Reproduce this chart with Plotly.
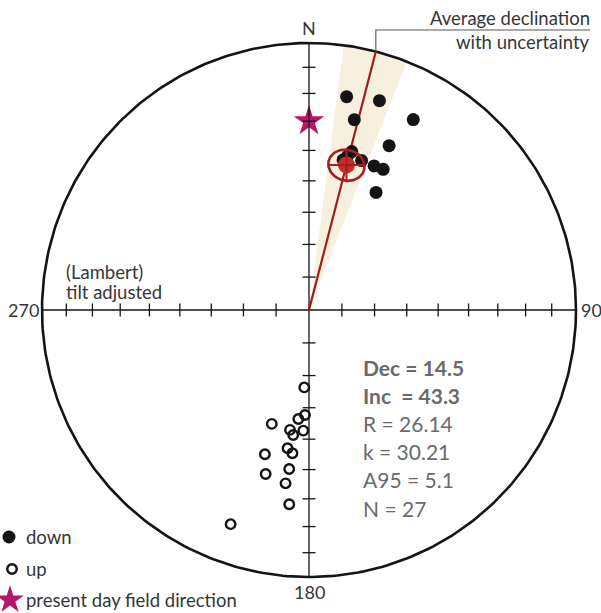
import numpy as np
import plotly.graph_objects as go

# ---- palaeomagnetic directions (declination / inclination, degrees) ----
down_dec = [10.0, 18.6, 13.4, 28.7, 26.0, 15.1, 19.4, 24.3, 27.8, 29.7, 12.8, 14.0]
down_inc = [20.0, 18.4, 27.6, 19.8, 32.1, 38.5, 40.4, 40.5, 40.2, 48.0, 41.9, 40.5]

up_dec = [183.5, 182.2, 185.6, 182.7, 189.0, 187.2, 198.1, 188.8,
          186.6, 197.0, 187.1, 194.8, 187.7, 185.8, 200.1]
up_inc = [-66.3, -57.7, -56.3, -52.7, -52.5, -51.0, -53.0, -46.5,
          -45.1, -42.9, -39.8, -36.6, -34.8, -27.7, -15.7]

# Fisher mean and statistics
mean_dec = 14.5
mean_inc = 43.3
a95 = 5.1
stat_R = 26.14
stat_k = 30.21
stat_N = 27

# present day field direction
pdf_dec = 0.0
pdf_inc = 30.0

# inclination ticks along the N-S / E-W axes
tick_incs = [10, 20, 30, 40, 50, 60, 70, 80]
axis_labels = ["N", "90", "180", "270"]

# ---- figure geometry (pixels) ----
W, H = 601, 613
CX, CY, RAD = 309, 310, 267


def project(dec, inc):
    """Lambert equal-area projection, unit primitive circle."""
    dec = np.radians(np.asarray(dec, dtype=float))
    inc = np.radians(np.abs(np.asarray(inc, dtype=float)))
    r = np.sqrt(2.0) * np.sin((np.pi / 2 - inc) / 2)
    return r * np.sin(dec), r * np.cos(dec)


def px(x, y):
    """Pixel position to data coordinates."""
    return (x - CX) / RAD, (CY - y) / RAD


fig = go.Figure()
INK = "#141414"

# uncertainty wedge on the mean declination
d_dec = np.degrees(np.arcsin(np.sin(np.radians(a95)) / np.cos(np.radians(mean_inc))))
arc = np.radians(np.linspace(mean_dec - d_dec, mean_dec + d_dec, 60))
wx = np.concatenate([[0], np.sin(arc), [0]])
wy = np.concatenate([[0], np.cos(arc), [0]])
fig.add_trace(go.Scatter(x=wx, y=wy, mode="lines", fill="toself",
                         fillcolor="#F7F0DE", line=dict(width=0),
                         hoverinfo="skip"))

# present day field star (under the axis)
sx, sy = project([pdf_dec], [pdf_inc])
fig.add_trace(go.Scatter(x=sx, y=sy, mode="markers",
                         marker=dict(symbol="star", size=23, color="#B5166A",
                                     line=dict(width=0))))

# primitive circle
t = np.linspace(0, 2 * np.pi, 400)
fig.add_trace(go.Scatter(x=np.cos(t), y=np.sin(t), mode="lines",
                         line=dict(color=INK, width=2.6), hoverinfo="skip"))

# axes
fig.add_trace(go.Scatter(x=[-1, 1, None, 0, 0], y=[0, 0, None, -1, 1],
                         mode="lines", line=dict(color=INK, width=1.3),
                         hoverinfo="skip"))

# inclination ticks
half = 6.5 / RAD
tx, ty = [], []
for inc in tick_incs:
    r, _ = project([90], [inc])
    r = float(r[0])
    for sgn in (1, -1):
        tx += [sgn * r, sgn * r, None]
        ty += [-half, half, None]
        tx += [-half, half, None]
        ty += [sgn * r, sgn * r, None]
fig.add_trace(go.Scatter(x=tx, y=ty, mode="lines",
                         line=dict(color=INK, width=1.3), hoverinfo="skip"))

# mean declination line
fig.add_trace(go.Scatter(x=[0, np.sin(np.radians(mean_dec))],
                         y=[0, np.cos(np.radians(mean_dec))],
                         mode="lines", line=dict(color="#A01B1E", width=2.2),
                         hoverinfo="skip"))

# lower hemisphere (down) directions
dx, dy = project(down_dec, down_inc)
fig.add_trace(go.Scatter(x=dx, y=dy, mode="markers",
                         marker=dict(symbol="circle", size=13, color=INK,
                                     line=dict(width=0))))

# upper hemisphere (up) directions
ux, uy = project(up_dec, up_inc)
fig.add_trace(go.Scatter(x=ux, y=uy, mode="markers",
                         marker=dict(symbol="circle-open", size=9.5, color=INK,
                                     line=dict(width=2.4, color=INK))))

# mean direction with its a95 cone
D, I, A = np.radians(mean_dec), np.radians(mean_inc), np.radians(a95)
m = np.array([np.cos(I) * np.sin(D), np.cos(I) * np.cos(D), np.sin(I)])
u = np.cross(m, [0, 0, 1.0]); u /= np.linalg.norm(u)
w = np.cross(m, u)
phi = np.linspace(0, 2 * np.pi, 120)
v = (np.cos(A) * m[:, None]
     + np.sin(A) * (np.cos(phi) * u[:, None] + np.sin(phi) * w[:, None]))
cdec = np.degrees(np.arctan2(v[0], v[1]))
cinc = np.degrees(np.arcsin(v[2]))
cx, cy = project(cdec, cinc)
mx, my = project([mean_dec], [mean_inc])
mx, my = float(mx[0]), float(my[0])
fig.add_trace(go.Scatter(x=[mx], y=[my], mode="markers",
                         marker=dict(symbol="circle", size=17, color="#C42D28",
                                     line=dict(width=0))))
fig.add_trace(go.Scatter(x=cx, y=cy, mode="lines",
                         line=dict(color="#A81D1F", width=2.6), hoverinfo="skip"))
fig.add_trace(go.Scatter(x=[cx.min(), cx.max(), None, mx, mx],
                         y=[my, my, None, cy.min(), cy.max()],
                         mode="lines", line=dict(color="#A81D1F", width=2),
                         hoverinfo="skip"))

# leader for the declination label
lx, ly = np.sin(np.radians(mean_dec)), np.cos(np.radians(mean_dec))
ax0, ay0 = px(0, 30)
ax1, _ = px(590, 30)
fig.add_trace(go.Scatter(x=[lx, lx, ax1], y=[ly, ay0, ay0], mode="lines",
                         line=dict(color="#555555", width=1.1),
                         hoverinfo="skip"))

# legend glyphs
lg = [px(9, 537), px(12, 569), px(10, 600)]
fig.add_trace(go.Scatter(x=[lg[0][0]], y=[lg[0][1]], mode="markers",
                         marker=dict(symbol="circle", size=13, color=INK)))
fig.add_trace(go.Scatter(x=[lg[1][0]], y=[lg[1][1]], mode="markers",
                         marker=dict(symbol="circle-open", size=9.5, color=INK,
                                     line=dict(width=2.4, color=INK))))
fig.add_trace(go.Scatter(x=[lg[2][0]], y=[lg[2][1]], mode="markers",
                         marker=dict(symbol="star", size=21, color="#B5166A")))

FONT = "Lato, 'Open Sans', sans-serif"
TXT = "#363636"
GREY = "#6A6A6A"


def note(text, x, y, size=16, color=TXT, xanchor="left", bold=False):
    if bold:
        text = "<b>" + text + "</b>"
    fig.add_annotation(text=text, x=x / W, y=1 - y / H, xref="paper",
                       yref="paper", xanchor=xanchor, yanchor="middle",
                       showarrow=False,
                       font=dict(family=FONT, size=size, color=color))


note(axis_labels[0], CX, 28, size=18, xanchor="center")
note(axis_labels[1], 579, 310, size=18)
note(axis_labels[2], CX, 592, size=18, xanchor="center")
note(axis_labels[3], 41, 310, size=18, xanchor="right")

note("Average declination", 592, 18, size=18.5, xanchor="right")
note("with uncertainty", 592, 42, size=18.5, xanchor="right")
note("(Lambert)", 64, 272, size=18.5)
note("tilt adjusted", 64, 292, size=18.5)

stats = [
    (f"Dec = {mean_dec}", True),
    (f"Inc\u00a0\u00a0= {mean_inc}", True),
    (f"R = {stat_R}", False),
    (f"k = {stat_k}", False),
    (f"A95 = {a95}", False),
    (f"N = {stat_N}", False),
]
for i, (s, b) in enumerate(stats):
    note(s, 361, 367 + i * 28.2, size=21, color=GREY, bold=b)

note("down", 24, 537, size=18.5)
note("up", 24, 569, size=18.5)
note("present day field direction", 24, 600, size=18.5)

xr = [px(0, 0)[0], px(W, 0)[0]]
yr = [px(0, H)[1], px(0, 0)[1]]
fig.update_layout(
    width=W, height=H, margin=dict(l=0, r=0, t=0, b=0),
    paper_bgcolor="white", plot_bgcolor="white", showlegend=False,
    xaxis=dict(range=xr, visible=False, fixedrange=True),
    yaxis=dict(range=yr, visible=False, fixedrange=True),
)

fig.write_html("out.html")
